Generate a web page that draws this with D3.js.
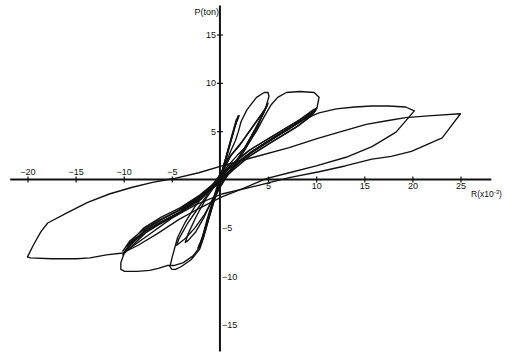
<!DOCTYPE html>
<html>
<head>
<meta charset="utf-8">
<script src="https://cdn.jsdelivr.net/npm/d3@7"></script>
<style>
  html, body { margin: 0; padding: 0; background: #fff; }
  svg { display: block; }
  text { font-family: "Liberation Sans", "DejaVu Sans", sans-serif; fill: #111; }
</style>
</head>
<body>
<svg id="chart" width="509" height="355"></svg>
<script>
// Load–drift hysteresis record: R (drift, x10^-3) against P (ton).
// Each cycle is a sequence of [R, P] readings in loading order.

const xTicksNeg = [-20, -15, -10, -5];
const xTicksPos = [5, 10, 15, 20, 25];
const yTicksPos = [5, 10, 15];
const yTicksNeg = [-5, -10, -15];

// small cycles, about ±2
const cycleA1 = [[0,0],[0.5,1.8],[1.1,3.9],[1.6,5.6],[1.9,6.5],[2.0,6.6],[1.7,5.9],[1.1,3.8],[0.5,1.6],[0.1,0.2],[-0.5,-1.6],[-1.1,-3.6],[-1.7,-5.6],[-2.1,-6.8],[-2.3,-7.1],[-2.0,-6.5],[-1.4,-4.6],[-0.7,-2.3],[-0.1,-0.3]];
const cycleA2 = [[-0.1,-0.3],[0.4,1.5],[1.0,3.6],[1.5,5.4],[1.9,6.4],[1.7,6.2],[1.2,4.4],[0.6,2.2],[0.2,0.6],[-0.4,-1.2],[-1.0,-3.3],[-1.6,-5.3],[-2.0,-6.6],[-2.2,-7.0],[-1.8,-6.2],[-1.2,-4.2],[-0.6,-2.0],[0,0]];
const cycleA3 = [[0,0],[0.6,2.2],[1.2,4.3],[1.7,6.0],[1.9,6.6],[1.6,5.7],[1.0,3.5],[0.4,1.3],[-0.1,-0.1],[-0.7,-2.0],[-1.3,-4.0],[-1.8,-5.9],[-2.2,-6.9],[-1.9,-6.4],[-1.3,-4.4],[-0.6,-2.2],[0,0]];

// first ±5 cycle
const cycleB1 = [[0,0],[0.5,1.4],[1.1,2.9],[1.6,4.0],[1.9,4.9],[2.2,6.0],[2.8,7.2],[3.8,8.5],[4.6,9.0],[5.0,9.0],[5.1,8.6],[4.8,7.6],[4.3,6.4],[3.9,5.4],[3.2,4.1],[2.5,2.9],[1.6,1.6],[0.7,0.4],[0,-0.7],[-0.6,-2.2],[-1.2,-4.2],[-1.7,-6.0],[-2.1,-7.2],[-3.0,-8.3],[-4.0,-9.0],[-4.6,-9.3],[-5.0,-9.3],[-5.2,-9.0],[-4.9,-7.8],[-4.4,-6.0],[-3.6,-4.4],[-2.6,-2.8],[-1.6,-1.5],[-0.5,-0.2],[0.3,0.8]];
// repeated ±5 cycles
const cycleB2 = [[0.3,0.8],[1.2,2.6],[2.2,3.8],[3.2,5.2],[4.2,6.6],[4.9,7.6],[5.0,7.9],[4.6,7.0],[3.6,5.1],[2.6,3.3],[1.4,1.4],[0.4,-0.2],[-0.6,-1.8],[-1.6,-3.6],[-2.6,-5.0],[-3.6,-6.1],[-4.5,-6.8],[-4.3,-6.2],[-3.4,-4.6],[-2.3,-3.0],[-1.2,-1.4],[-0.2,0.2]];
const cycleB3 = [[-0.2,0.2],[1.0,2.3],[2.1,3.6],[3.1,5.0],[4.1,6.4],[4.8,7.4],[4.9,7.7],[4.5,6.8],[3.5,4.9],[2.4,3.0],[1.2,1.2],[0.2,-0.4],[-0.8,-2.1],[-1.7,-4.0],[-2.5,-5.4],[-3.3,-6.3],[-3.6,-6.5],[-3.3,-5.6],[-2.4,-3.7],[-1.4,-1.9],[-0.2,-0.2]];

// first ±10 cycle
const cycleC1 = [[-0.2,-0.2],[0.8,1.4],[1.8,2.5],[2.8,3.5],[3.8,5.0],[4.6,6.5],[5.3,7.7],[6.0,8.5],[6.9,9.0],[8.3,9.1],[9.8,9.0],[10.3,8.5],[10.1,7.5],[9.8,7.0],[8.4,6.0],[7.0,5.1],[5.6,4.3],[4.3,3.5],[3.3,2.8],[2.0,1.8],[0.8,0.6],[0,-0.4],[-0.6,-2.0],[-1.2,-4.0],[-1.7,-5.8],[-2.1,-7.0],[-2.8,-7.9],[-3.8,-8.6],[-4.8,-8.9],[-5.5,-8.9],[-6.4,-9.2],[-7.3,-9.4],[-8.6,-9.5],[-9.9,-9.5],[-10.3,-9.3],[-10.3,-8.6],[-9.9,-7.5],[-9.0,-6.3],[-8.0,-5.5],[-6.0,-4.4],[-4.2,-3.4],[-2.2,-2.1],[-0.8,-0.9],[0.2,0.1]];
// repeated ±10 cycles
const cycleC2 = [[0.2,0.1],[1.5,1.4],[3.3,2.9],[5.6,4.3],[8.4,6.0],[9.8,7.0],[10.0,7.2],[9.6,6.7],[8.2,5.6],[5.4,3.9],[3.2,2.5],[1.4,1.0],[0,-0.3],[-2.2,-2.1],[-4.2,-3.4],[-6.2,-4.4],[-8.0,-5.5],[-9.3,-6.6],[-10.0,-7.6],[-9.6,-7.1],[-7.8,-5.2],[-6.0,-4.1],[-4.0,-3.1],[-2.0,-1.8],[-0.5,-0.5]];
const cycleC3 = [[-0.5,-0.5],[1.3,1.6],[3.2,3.1],[5.5,4.5],[8.3,6.2],[9.7,7.2],[10.1,7.4],[9.5,6.8],[8.0,5.8],[5.2,4.0],[3.0,2.6],[1.2,1.1],[-0.2,-0.2],[-2.3,-1.9],[-4.3,-3.2],[-6.3,-4.2],[-8.1,-5.3],[-9.4,-6.4],[-10.1,-7.4],[-9.7,-6.9],[-7.9,-5.0],[-6.1,-3.9],[-4.1,-2.9],[-2.1,-1.6],[-0.6,-0.4]];
const cycleC4 = [[-0.6,-0.4],[1.1,1.5],[3.0,3.0],[5.3,4.4],[8.2,6.1],[9.6,7.0],[9.9,7.1],[9.4,6.5],[7.9,5.4],[5.1,3.7],[2.9,2.3],[1.1,0.8],[-0.3,-0.5],[-2.4,-2.3],[-4.4,-3.6],[-6.4,-4.7],[-8.2,-5.8],[-9.5,-6.9],[-10.1,-7.8],[-9.6,-7.3],[-7.7,-5.5],[-5.9,-4.3],[-3.9,-3.3],[-1.9,-2.0],[-0.5,-0.5]];

// +20 excursion, then down to -20
const cycleD = [[-0.5,-0.5],[1.0,1.2],[3.3,2.9],[5.6,4.4],[8.4,6.1],[10.3,6.9],[12.1,7.3],[14.0,7.5],[15.8,7.6],[17.5,7.6],[19.3,7.5],[20.2,7.1],[19.6,6.4],[18.3,4.9],[15.8,3.4],[13.1,2.3],[10.0,1.4],[7.2,0.7],[4.8,0.1],[2.5,-0.9],[0.2,-1.8],[-2.0,-2.9],[-4.2,-4.1],[-6.5,-5.6],[-8.5,-6.8],[-10.1,-7.6],[-11.8,-7.8],[-13.5,-8.1],[-14.9,-8.2],[-17.5,-8.2],[-19.7,-8.1],[-20.0,-8.0]];
// from -20 up to +25 and back
const cycleE = [[-20.0,-8.0],[-19.4,-6.8],[-18.6,-5.4],[-17.9,-4.5],[-16.0,-3.5],[-13.8,-2.4],[-11.5,-1.5],[-9.1,-0.8],[-7.0,-0.3],[-4.8,0.1],[-2.2,0.7],[0.2,1.4],[3.5,2.3],[7.2,3.3],[10.0,4.2],[12.4,4.9],[15.2,5.7],[17.5,6.1],[19.3,6.4],[22.0,6.6],[25.0,6.8],[24.0,5.5],[23.1,4.3],[21.5,3.6],[19.9,2.9],[17.8,2.4],[15.8,2.1],[13.0,1.4],[10.3,0.8],[7.2,0.2],[4.0,-0.6],[0.2,-1.5],[-2.5,-2.6],[-5.0,-4.0],[-7.5,-5.8],[-9.5,-7.2]];

const cycles = [cycleA1, cycleA2, cycleA3, cycleB1, cycleB2, cycleB3,
                cycleC1, cycleC2, cycleC3, cycleC4, cycleD, cycleE];

const svg = d3.select("#chart");

const x = d3.scaleLinear().domain([-20, 25]).range([27.5, 460.5]);
const y = d3.scaleLinear().domain([-15, 15]).range([324.5, 34.5]);

const ink = "#111";

// axis lines, drawn a little past the labelled range
svg.append("line")
  .attr("x1", x(-21.8)).attr("x2", x(28.2))
  .attr("y1", y(0)).attr("y2", y(0))
  .attr("stroke", ink).attr("stroke-width", 2);
svg.append("line")
  .attr("x1", x(0)).attr("x2", x(0))
  .attr("y1", y(18)).attr("y2", y(-17.8))
  .attr("stroke", ink).attr("stroke-width", 2);

// R ticks: negative labels above the axis, positive below
const gxNeg = svg.append("g").attr("transform", `translate(0,${y(0)})`)
  .call(d3.axisTop(x).tickValues(xTicksNeg).tickSize(3).tickPadding(2).tickFormat(d3.format("d")));
const gxPos = svg.append("g").attr("transform", `translate(0,${y(0)})`)
  .call(d3.axisBottom(x).tickValues(xTicksPos).tickSize(3).tickPadding(0).tickFormat(d3.format("d")));
// P ticks: positive labels left of the axis, negative right
const gyPos = svg.append("g").attr("transform", `translate(${x(0)},0)`)
  .call(d3.axisLeft(y).tickValues(yTicksPos).tickSize(3).tickPadding(1).tickFormat(d3.format("d")));
const gyNeg = svg.append("g").attr("transform", `translate(${x(0)},0)`)
  .call(d3.axisRight(y).tickValues(yTicksNeg).tickSize(0).tickPadding(2).tickFormat(d3.format("d")));

[gxNeg, gxPos, gyPos, gyNeg].forEach(g => {
  g.select(".domain").remove();
  g.selectAll(".tick line").attr("stroke", ink).attr("stroke-width", 1.2);
  g.selectAll(".tick text")
    .attr("fill", ink)
    .style("font-family", "'Liberation Sans', 'DejaVu Sans', sans-serif")
    .style("font-size", "9px");
});
gxNeg.selectAll(".tick line").attr("y1", -3).attr("y2", 3);
gxPos.selectAll(".tick line").attr("y1", -3).attr("y2", 3);
gyPos.selectAll(".tick line").attr("x1", -3).attr("x2", 3);

// axis titles
svg.append("text")
  .attr("x", x(0) - 1).attr("y", 15)
  .attr("text-anchor", "end")
  .style("font-size", "9px")
  .text("P(ton)");

const rTitle = svg.append("text")
  .attr("x", 471).attr("y", 197)
  .style("font-size", "8.5px");
rTitle.append("tspan").text("R(x10");
rTitle.append("tspan").attr("dy", -3).style("font-size", "6px").text("-3");
rTitle.append("tspan").attr("dy", 3).text(")");

// hysteresis cycles
const line = d3.line()
  .x(d => x(d[0]))
  .y(d => y(d[1]))
  .curve(d3.curveLinear);

svg.append("g")
  .selectAll("path")
  .data(cycles)
  .join("path")
  .attr("d", line)
  .attr("fill", "none")
  .attr("stroke", ink)
  .attr("stroke-width", 1.35)
  .attr("stroke-linejoin", "round")
  .attr("stroke-linecap", "round");
</script>
</body>
</html>
